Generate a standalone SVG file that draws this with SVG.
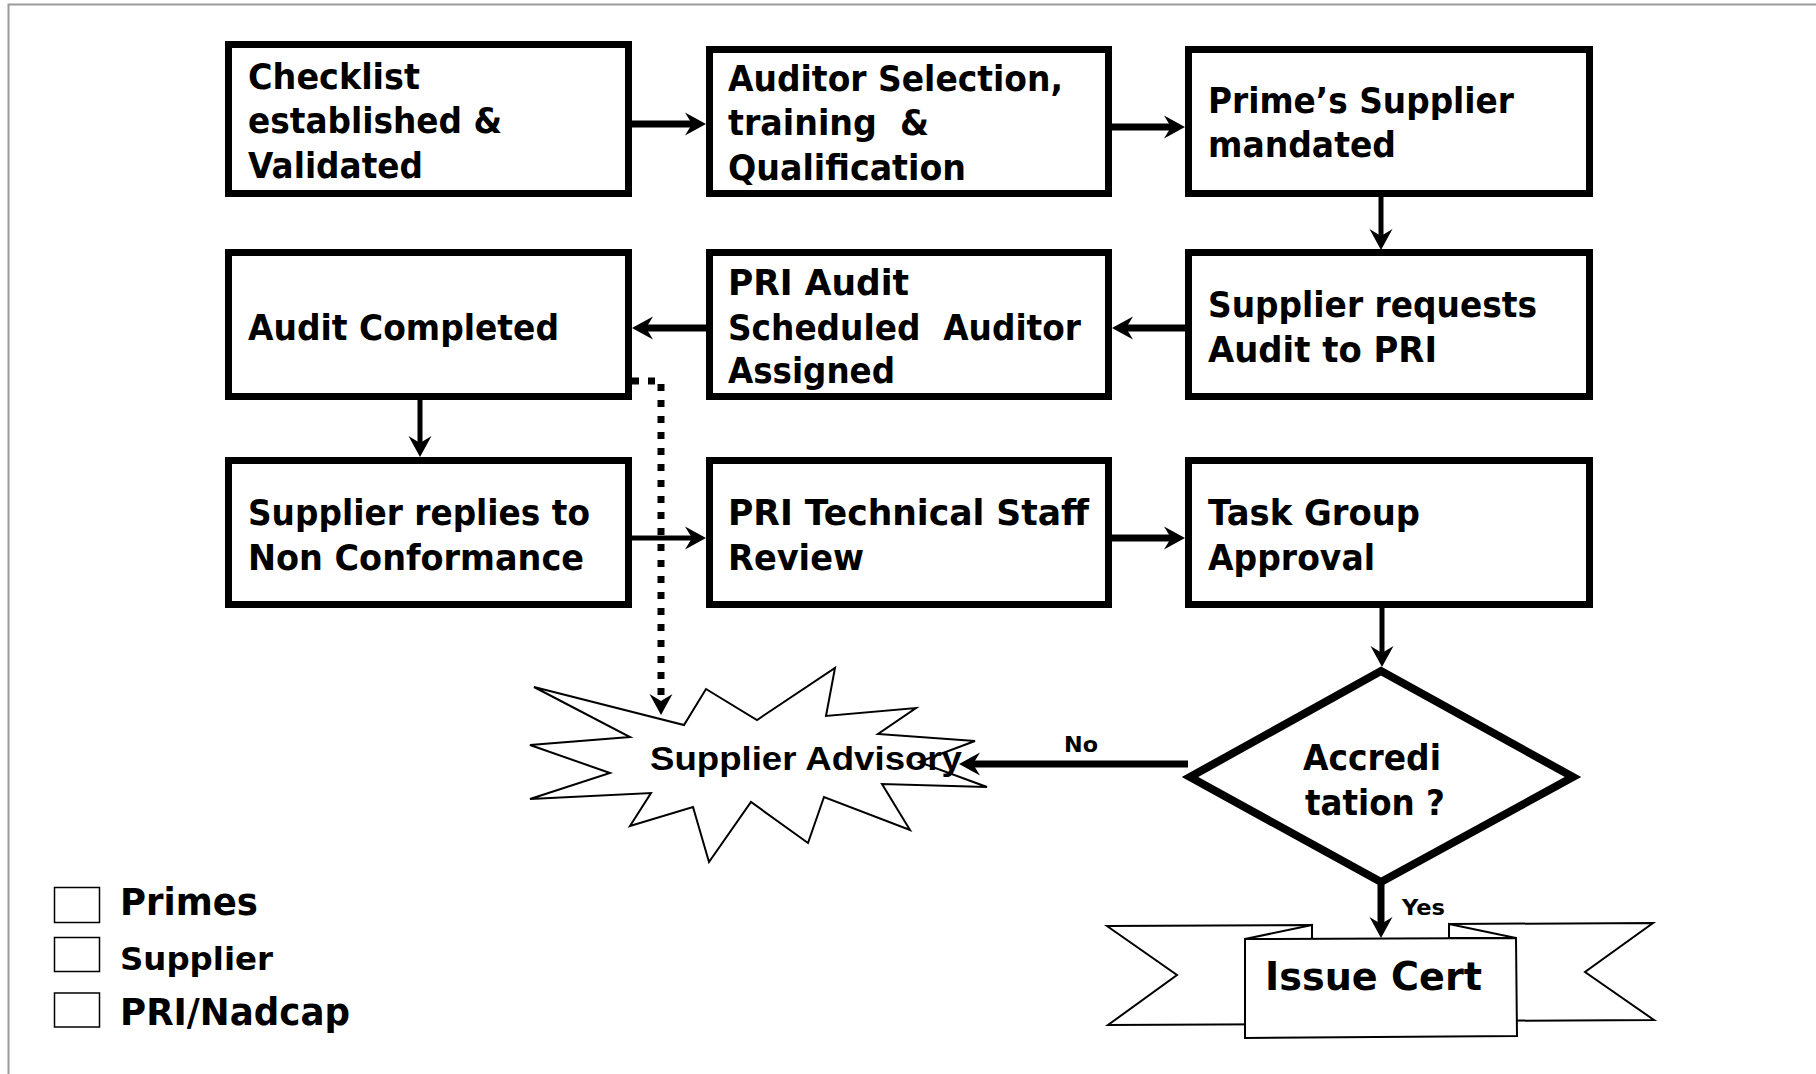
<svg xmlns="http://www.w3.org/2000/svg" width="1816" height="1074" viewBox="0 0 1816 1074">
<style>
.bx{fill:#fff;stroke:#000;stroke-width:7}
.t{font-family:"DejaVu Sans","Verdana",sans-serif;font-weight:bold;font-size:35px;fill:#000;white-space:pre}
.c{stroke:#000;stroke-width:7;fill:none}
.cn{stroke:#000;stroke-width:5;fill:none}
.thin{fill:#fff;stroke:#000;stroke-width:2;stroke-linejoin:miter}
.lg{fill:#fff;stroke:#000;stroke-width:1.5}
</style>
<defs>
<marker id="ah" markerUnits="userSpaceOnUse" markerWidth="40" markerHeight="40" viewBox="-20 -20 40 40" refX="0" refY="0" orient="auto" overflow="visible">
<path d="M14,0 L-7,-11.5 L0,0 L-7,11.5 Z" fill="#000"/>
</marker>
</defs>
<rect width="1816" height="1074" fill="#fff"/>
<path d="M8.5,1074 V4.5 H1816" fill="none" stroke="#9a9a9a" stroke-width="2"/>

<g id="connectors">
<line class="c" x1="632" y1="124" x2="692" y2="124" marker-end="url(#ah)"/>
<line class="c" x1="1112" y1="127" x2="1171" y2="127" marker-end="url(#ah)"/>
<line class="cn" x1="1381" y1="197" x2="1381" y2="236" marker-end="url(#ah)"/>
<line class="c" x1="1185" y1="328" x2="1126" y2="328" marker-end="url(#ah)"/>
<line class="c" x1="706" y1="328" x2="646" y2="328" marker-end="url(#ah)"/>
<line class="cn" x1="420" y1="400" x2="420" y2="443" marker-end="url(#ah)"/>
<line class="cn" x1="632" y1="538" x2="692" y2="538" marker-end="url(#ah)"/>
<line class="c" x1="1112" y1="538" x2="1171" y2="538" marker-end="url(#ah)"/>
<line class="cn" x1="1382" y1="608" x2="1382" y2="653" marker-end="url(#ah)"/>
<line class="c" x1="1188" y1="764" x2="973" y2="764" marker-end="url(#ah)"/>
<line class="c" x1="1381" y1="884" x2="1381" y2="924" marker-end="url(#ah)"/>
<path d="M632,381 H661 V701" fill="none" stroke="#000" stroke-width="7" stroke-dasharray="7,9" marker-end="url(#ah)"/>
<text x="1064" y="752" class="t" style="font-size:22px" textLength="34" lengthAdjust="spacingAndGlyphs">No</text>
<text x="1402" y="915" class="t" style="font-size:22px" textLength="43" lengthAdjust="spacingAndGlyphs">Yes</text>
</g>

<g id="n1">
<rect class="bx" x="228.5" y="44.5" width="400" height="149"/>
<text class="t" x="248" y="89" textLength="172" lengthAdjust="spacingAndGlyphs">Checklist</text>
<text class="t" x="248" y="133" textLength="254" lengthAdjust="spacingAndGlyphs">established &amp;</text>
<text class="t" x="248" y="178" textLength="175" lengthAdjust="spacingAndGlyphs">Validated</text>
</g>
<g id="n2">
<rect class="bx" x="709.5" y="49.5" width="399" height="144"/>
<text class="t" x="728" y="91" textLength="335" lengthAdjust="spacingAndGlyphs">Auditor Selection,</text>
<text class="t" x="728" y="135" textLength="201" lengthAdjust="spacingAndGlyphs">training  &amp;</text>
<text class="t" x="728" y="180" textLength="238" lengthAdjust="spacingAndGlyphs">Qualification</text>
</g>
<g id="n3">
<rect class="bx" x="1188.5" y="49.5" width="401" height="144"/>
<text class="t" x="1208" y="113" textLength="306" lengthAdjust="spacingAndGlyphs">Prime’s Supplier</text>
<text class="t" x="1208" y="157" textLength="188" lengthAdjust="spacingAndGlyphs">mandated</text>
</g>
<g id="n4">
<rect class="bx" x="228.5" y="252.5" width="400" height="144"/>
<text class="t" x="248" y="340" textLength="311" lengthAdjust="spacingAndGlyphs">Audit Completed</text>
</g>
<g id="n5">
<rect class="bx" x="709.5" y="252.5" width="399" height="144"/>
<text class="t" x="728" y="295" textLength="181" lengthAdjust="spacingAndGlyphs">PRI Audit</text>
<text class="t" x="728" y="340" textLength="353" lengthAdjust="spacingAndGlyphs">Scheduled  Auditor</text>
<text class="t" x="728" y="383" textLength="167" lengthAdjust="spacingAndGlyphs">Assigned</text>
</g>
<g id="n6">
<rect class="bx" x="1188.5" y="252.5" width="401" height="144"/>
<text class="t" x="1208" y="317" textLength="329" lengthAdjust="spacingAndGlyphs">Supplier requests</text>
<text class="t" x="1208" y="362" textLength="229" lengthAdjust="spacingAndGlyphs">Audit to PRI</text>
</g>
<g id="n7">
<rect class="bx" x="228.5" y="460.5" width="400" height="144"/>
<text class="t" x="248" y="525" textLength="342" lengthAdjust="spacingAndGlyphs">Supplier replies to</text>
<text class="t" x="248" y="570" textLength="336" lengthAdjust="spacingAndGlyphs">Non Conformance</text>
</g>
<g id="n8">
<rect class="bx" x="709.5" y="460.5" width="399" height="144"/>
<text class="t" x="728" y="525" textLength="361" lengthAdjust="spacingAndGlyphs">PRI Technical Staff</text>
<text class="t" x="728" y="570" textLength="136" lengthAdjust="spacingAndGlyphs">Review</text>
</g>
<g id="n9">
<rect class="bx" x="1188.5" y="460.5" width="401" height="144"/>
<text class="t" x="1208" y="525" textLength="212" lengthAdjust="spacingAndGlyphs">Task Group</text>
<text class="t" x="1208" y="570" textLength="167" lengthAdjust="spacingAndGlyphs">Approval</text>
</g>
<g id="decision">
<polygon points="1381,671 1573,777 1381,882 1190,777" fill="#fff" stroke="#000" stroke-width="8"/>
<text class="t" x="1303" y="770" textLength="138" lengthAdjust="spacingAndGlyphs">Accredi</text>
<text class="t" x="1305" y="815" textLength="140" lengthAdjust="spacingAndGlyphs">tation ?</text>
</g>
<g id="advisory">
<polygon class="thin" points="534,687 684,725 706,689 757,720 835,668 826,716 916,708 878,734 975,741 919,762 987,787 882,784 910,830 824,797 808,843 751,802 709,862 693,807 630,826 651,793 530,799 610,773 530,745 630,737"/>
<text x="650" y="770" font-family="'Liberation Sans',Arial,sans-serif" font-weight="bold" font-size="33" textLength="312" lengthAdjust="spacingAndGlyphs">Supplier Advisory</text>
</g>
<g id="issue-cert">
<polygon class="thin" points="1107,926 1312,925 1312,1024 1108,1025 1177,975"/>
<polygon class="thin" points="1449,924 1653,923 1585,972 1654,1020 1449,1021"/>
<polygon class="thin" points="1245,939 1312,925 1312,939"/>
<polygon class="thin" points="1449,924 1516,938 1449,938"/>
<polygon class="thin" points="1245,939 1516,938 1517,1036 1245,1038"/>
<text class="t" x="1265" y="990" style="font-size:39px" textLength="217" lengthAdjust="spacingAndGlyphs">Issue Cert</text>
</g>
<g id="legend">
<rect class="lg" x="54.5" y="887.5" width="45" height="35"/>
<rect class="lg" x="54.5" y="937.5" width="45" height="34"/>
<rect class="lg" x="54.5" y="993" width="45" height="34"/>
<text class="t" x="120" y="915" style="font-size:37px" textLength="138" lengthAdjust="spacingAndGlyphs">Primes</text>
<text class="t" x="120" y="970" style="font-size:32px" textLength="153" lengthAdjust="spacingAndGlyphs">Supplier</text>
<text class="t" x="120" y="1025" style="font-size:37px" textLength="230" lengthAdjust="spacingAndGlyphs">PRI/Nadcap</text>
</g>
</svg>
